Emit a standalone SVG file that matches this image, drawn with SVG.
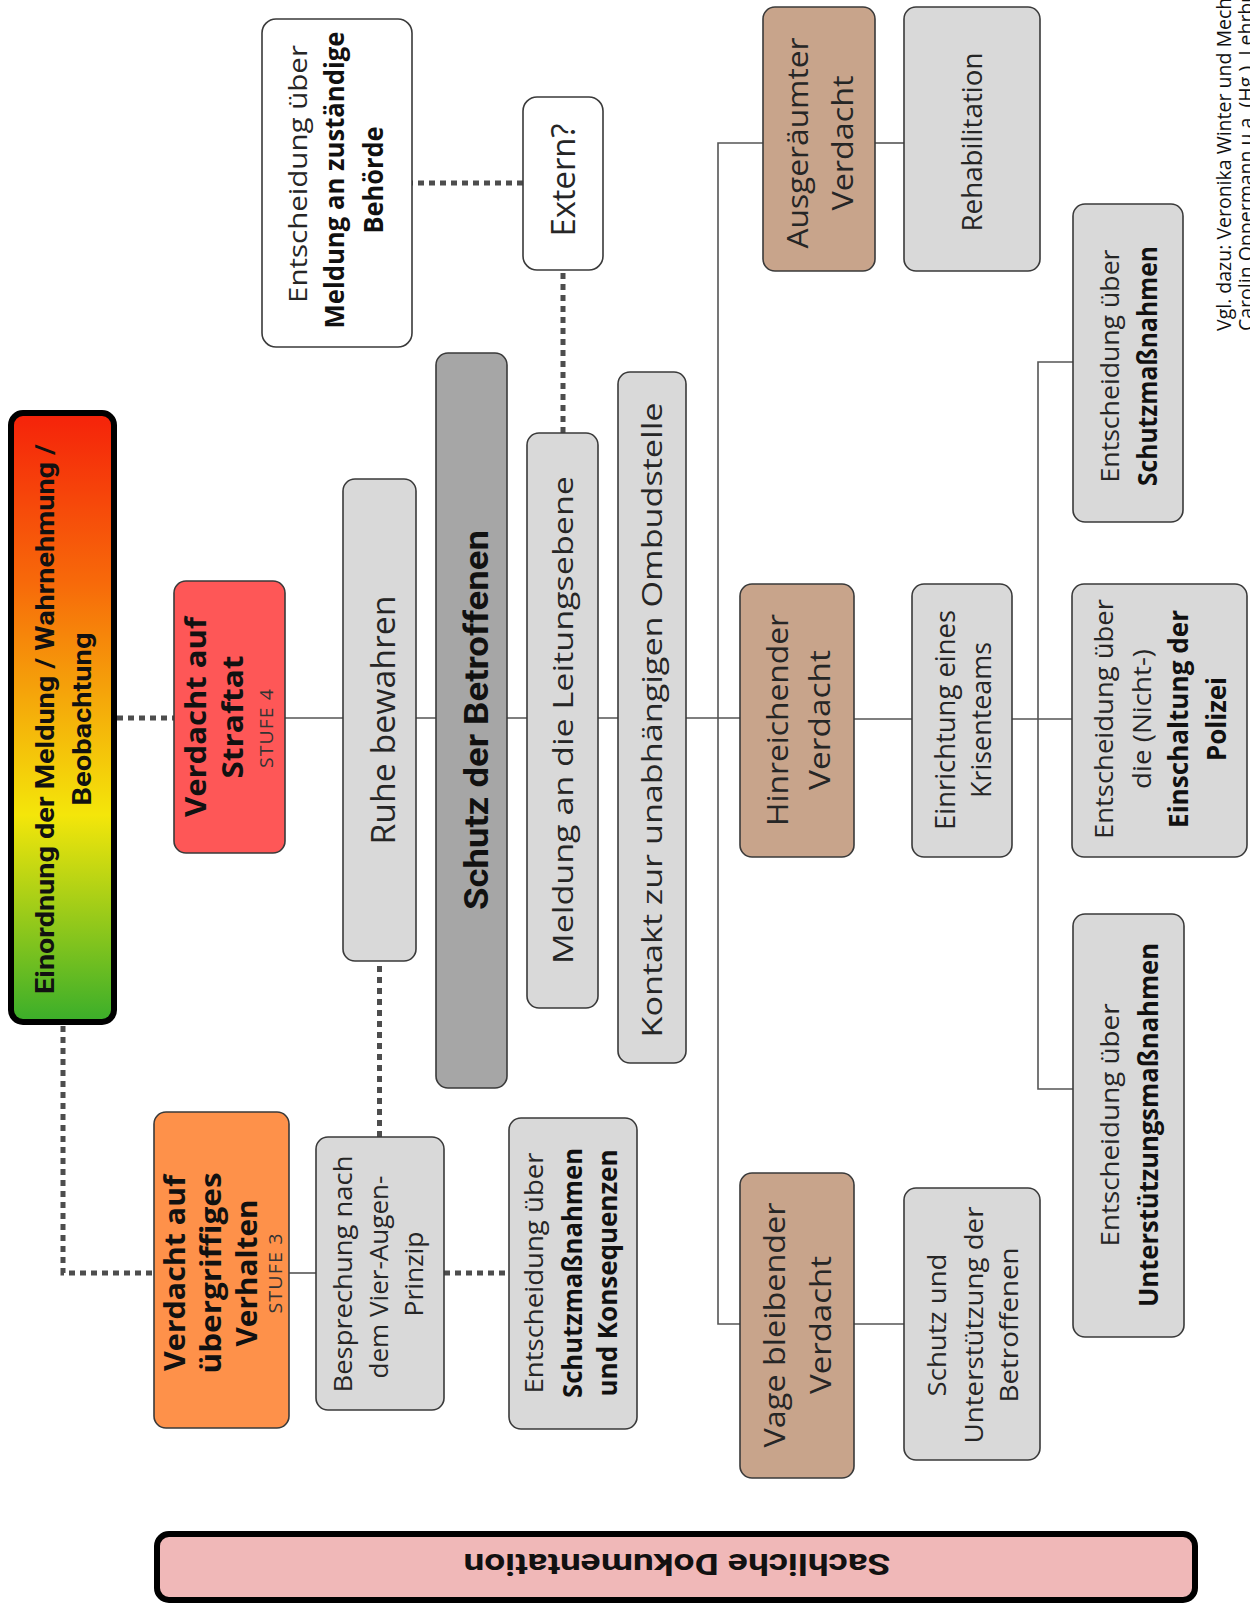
<svg xmlns="http://www.w3.org/2000/svg" width="1250" height="1608" viewBox="0 0 1250 1608">
<defs>
<linearGradient id="grad" x1="0" y1="0" x2="0" y2="1">
<stop offset="0" stop-color="#f5220a"/>
<stop offset="0.28" stop-color="#f76a0a"/>
<stop offset="0.45" stop-color="#f5a10a"/>
<stop offset="0.66" stop-color="#f4e60a"/>
<stop offset="1" stop-color="#3aae2a"/>
</linearGradient>
</defs>
<style>
.box{stroke:#3a3a3a;stroke-width:1.6}
.g{fill:#d9d9d9}
.w{fill:#ffffff}
.br{fill:#c8a48b}
.dk{fill:#a6a6a6}
.red{fill:#fe5757}
.or{fill:#fe914a}
.thick{stroke:#000;stroke-width:6}
text{font-family:"Open Sans","Liberation Sans",sans-serif;text-anchor:middle;fill:#262626}
.b{font-weight:700;fill:#111}
.rb{font-family:Roboto,"Liberation Sans",sans-serif;font-weight:700;fill:#111}
.s{font-size:18px;letter-spacing:1px;fill:#333}
.ln{stroke:#555;stroke-width:1.6;fill:none}
.dot{stroke:#4d4d4d;stroke-width:5;stroke-dasharray:6 5;fill:none}
.cite{font-size:19.5px;text-anchor:start;fill:#111}
</style>

<g id="connectors">
<path class="dot" d="M117 718 H174"/>
<path class="dot" d="M63 1026 V1273 H154"/>
<path class="dot" d="M444 1273 H509"/>
<path class="dot" d="M379.5 1137 V961"/>
<path class="dot" d="M563 433 V270"/>
<path class="dot" d="M523 183 H412"/>
<path class="ln" d="M285 718 H343 M416 718 H436 M507 718 H527 M598 718 H618 M686 718 H740"/>
<path class="ln" d="M289 1273 H316"/>
<path class="ln" d="M763 143 H718 V1324 H740"/>
<path class="ln" d="M875 143 H904"/>
<path class="ln" d="M854 1324 H904"/>
<path class="ln" d="M854 719 H912 M1012 719 H1072"/>
<path class="ln" d="M1073 362 H1038 V1089 H1073"/>
</g>

<g id="n-einordnung">
<rect x="11" y="413" width="103" height="609" rx="12" fill="url(#grad)" class="thick"/>
<g transform="translate(62,719) rotate(-90)">
<text class="rb" x="0" y="-8" font-size="26" textLength="550" lengthAdjust="spacingAndGlyphs">Einordnung der Meldung / Wahrnehmung /</text>
<text class="rb" x="0" y="29" font-size="26" textLength="173" lengthAdjust="spacingAndGlyphs">Beobachtung</text>
</g>
</g>

<g id="n-straftat">
<rect x="174" y="581" width="111" height="272" rx="12" class="box red"/>
<g transform="translate(229.5,717) rotate(-90)">
<text class="b" x="0" y="-23.5" font-size="28" textLength="200" lengthAdjust="spacingAndGlyphs">Verdacht auf</text>
<text class="b" x="0" y="13" font-size="28" textLength="123" lengthAdjust="spacingAndGlyphs">Straftat</text>
<text class="s" x="-11" y="43.5" textLength="80" lengthAdjust="spacingAndGlyphs">STUFE 4</text>
</g>
</g>

<g id="n-uebergriffig">
<rect x="154" y="1112" width="135" height="316" rx="12" class="box or"/>
<g transform="translate(221.5,1273) rotate(-90)">
<text class="b" x="0" y="-37" font-size="28" textLength="196" lengthAdjust="spacingAndGlyphs">Verdacht auf</text>
<text class="b" x="0" y="-1" font-size="28" textLength="201" lengthAdjust="spacingAndGlyphs">übergriffiges</text>
<text class="b" x="0" y="35" font-size="28" textLength="147" lengthAdjust="spacingAndGlyphs">Verhalten</text>
<text class="s" x="0" y="60.5" textLength="81" lengthAdjust="spacingAndGlyphs">STUFE 3</text>
</g>
</g>

<g id="n-besprechung">
<rect x="316" y="1137" width="128" height="273" rx="12" class="box g"/>
<g transform="translate(380,1274) rotate(-90)">
<text x="0" y="-28" font-size="26" textLength="237" lengthAdjust="spacingAndGlyphs">Besprechung nach</text>
<text x="-3" y="8" font-size="26" textLength="203" lengthAdjust="spacingAndGlyphs">dem Vier-Augen-</text>
<text x="0" y="43" font-size="26" textLength="85" lengthAdjust="spacingAndGlyphs">Prinzip</text>
</g>
</g>

<g id="n-konsequenzen">
<rect x="509" y="1118" width="128" height="311" rx="12" class="box g"/>
<g transform="translate(573,1273) rotate(-90)">
<text x="0" y="-30" font-size="26" textLength="241" lengthAdjust="spacingAndGlyphs">Entscheidung über</text>
<text class="b" x="0" y="9" font-size="26" textLength="250" lengthAdjust="spacingAndGlyphs">Schutzmaßnahmen</text>
<text class="b" x="0" y="44" font-size="26" textLength="247" lengthAdjust="spacingAndGlyphs">und Konsequenzen</text>
</g>
</g>

<g id="n-behoerde">
<rect x="262" y="19" width="150" height="328" rx="14" class="box w"/>
<g transform="translate(337,180) rotate(-90)">
<text x="6" y="-30" font-size="26" textLength="258" lengthAdjust="spacingAndGlyphs">Entscheidung über</text>
<text class="b" x="0" y="7" font-size="26" textLength="297" lengthAdjust="spacingAndGlyphs">Meldung an zuständige</text>
<text class="b" x="0" y="46" font-size="26" textLength="107" lengthAdjust="spacingAndGlyphs">Behörde</text>
</g>
</g>

<g id="n-extern">
<rect x="523" y="97" width="80" height="173" rx="14" class="box w"/>
<g transform="translate(563,180) rotate(-90)">
<text x="0" y="12" font-size="32" textLength="113" lengthAdjust="spacingAndGlyphs">Extern?</text>
</g>
</g>

<g id="n-ruhe">
<rect x="343" y="479" width="73" height="482" rx="12" class="box g"/>
<g transform="translate(379.5,720) rotate(-90)">
<text x="0" y="15.5" font-size="32" textLength="249" lengthAdjust="spacingAndGlyphs">Ruhe bewahren</text>
</g>
</g>

<g id="n-schutz">
<rect x="436" y="353" width="71" height="735" rx="12" class="box dk"/>
<g transform="translate(471.5,720) rotate(-90)">
<text class="rb" x="0" y="16.5" font-size="33" textLength="380" lengthAdjust="spacingAndGlyphs">Schutz der Betroffenen</text>
</g>
</g>

<g id="n-leitung">
<rect x="527" y="433" width="71" height="575" rx="12" class="box g"/>
<g transform="translate(562.5,720) rotate(-90)">
<text x="0" y="10.5" font-size="28" textLength="488" lengthAdjust="spacingAndGlyphs">Meldung an die Leitungsebene</text>
</g>
</g>

<g id="n-ombud">
<rect x="618" y="372" width="68" height="691" rx="12" class="box g"/>
<g transform="translate(652,720) rotate(-90)">
<text x="0" y="10" font-size="27" textLength="635" lengthAdjust="spacingAndGlyphs">Kontakt zur unabhängigen Ombudstelle</text>
</g>
</g>

<g id="n-ausgeraeumt">
<rect x="763" y="7" width="112" height="264" rx="12" class="box br"/>
<g transform="translate(819,143) rotate(-90)">
<text x="0" y="-11" font-size="30" textLength="211" lengthAdjust="spacingAndGlyphs">Ausgeräumter</text>
<text x="0" y="34" font-size="30" textLength="135" lengthAdjust="spacingAndGlyphs">Verdacht</text>
</g>
</g>

<g id="n-rehab">
<rect x="904" y="7" width="136" height="264" rx="12" class="box g"/>
<g transform="translate(972,142) rotate(-90)">
<text x="0" y="10" font-size="28" textLength="179" lengthAdjust="spacingAndGlyphs">Rehabilitation</text>
</g>
</g>

<g id="n-hinreichend">
<rect x="740" y="584" width="114" height="273" rx="12" class="box br"/>
<g transform="translate(797,720) rotate(-90)">
<text x="0" y="-9" font-size="30" textLength="212" lengthAdjust="spacingAndGlyphs">Hinreichender</text>
<text x="0" y="33" font-size="30" textLength="140" lengthAdjust="spacingAndGlyphs">Verdacht</text>
</g>
</g>

<g id="n-krisenteam">
<rect x="912" y="584" width="100" height="273" rx="12" class="box g"/>
<g transform="translate(962,720) rotate(-90)">
<text x="0" y="-7" font-size="27" textLength="220" lengthAdjust="spacingAndGlyphs">Einrichtung eines</text>
<text x="0" y="29" font-size="27" textLength="156" lengthAdjust="spacingAndGlyphs">Krisenteams</text>
</g>
</g>

<g id="n-polizei">
<rect x="1072" y="584" width="175" height="273" rx="12" class="box g"/>
<g transform="translate(1159.5,719) rotate(-90)">
<text x="0" y="-46.5" font-size="26" textLength="240" lengthAdjust="spacingAndGlyphs">Entscheidung über</text>
<text x="0" y="-8.5" font-size="26" textLength="140" lengthAdjust="spacingAndGlyphs">die (Nicht-)</text>
<text class="b" x="0" y="28.5" font-size="26" textLength="218" lengthAdjust="spacingAndGlyphs">Einschaltung der</text>
<text class="b" x="0" y="66.5" font-size="26" textLength="84" lengthAdjust="spacingAndGlyphs">Polizei</text>
</g>
</g>

<g id="n-schutzmassnahmen">
<rect x="1073" y="204" width="110" height="318" rx="12" class="box g"/>
<g transform="translate(1128,366) rotate(-90)">
<text x="0" y="-9" font-size="26" textLength="233" lengthAdjust="spacingAndGlyphs">Entscheidung über</text>
<text class="b" x="0" y="29" font-size="26" textLength="240" lengthAdjust="spacingAndGlyphs">Schutzmaßnahmen</text>
</g>
</g>

<g id="n-unterstuetzung">
<rect x="1073" y="914" width="111" height="423" rx="12" class="box g"/>
<g transform="translate(1128.5,1125) rotate(-90)">
<text x="0" y="-9.5" font-size="26" textLength="243" lengthAdjust="spacingAndGlyphs">Entscheidung über</text>
<text class="b" x="0" y="29.5" font-size="26" textLength="364" lengthAdjust="spacingAndGlyphs">Unterstützungsmaßnahmen</text>
</g>
</g>

<g id="n-vage">
<rect x="740" y="1173" width="114" height="305" rx="12" class="box br"/>
<g transform="translate(797,1325) rotate(-90)">
<text x="0" y="-12" font-size="30" textLength="245" lengthAdjust="spacingAndGlyphs">Vage bleibender</text>
<text x="0" y="34" font-size="30" textLength="138" lengthAdjust="spacingAndGlyphs">Verdacht</text>
</g>
</g>

<g id="n-schutzunterstuetzung">
<rect x="904" y="1188" width="136" height="272" rx="12" class="box g"/>
<g transform="translate(972,1325) rotate(-90)">
<text x="0" y="-26" font-size="26" textLength="143" lengthAdjust="spacingAndGlyphs">Schutz und</text>
<text x="0" y="11" font-size="26" textLength="237" lengthAdjust="spacingAndGlyphs">Unterstützung der</text>
<text x="0" y="46" font-size="26" textLength="155" lengthAdjust="spacingAndGlyphs">Betroffenen</text>
</g>
</g>

<g id="n-dokumentation">
<rect x="157" y="1534" width="1038" height="66" rx="12" fill="#f0b8b8" class="thick"/>
<g transform="translate(677,1566) rotate(180)">
<text class="rb" x="0" y="12" font-size="30" textLength="427" lengthAdjust="spacingAndGlyphs">Sachliche Dokumentation</text>
</g>
</g>

<g id="citation">
<g transform="translate(1231,331) rotate(-90)">
<text class="cite" x="0" y="0">Vgl. dazu: Veronika Winter und Mech</text>
<text class="cite" x="0" y="22">Carolin Oppermann u.a. (Hg.), Lehrbu</text>
</g>
</g>
</svg>
